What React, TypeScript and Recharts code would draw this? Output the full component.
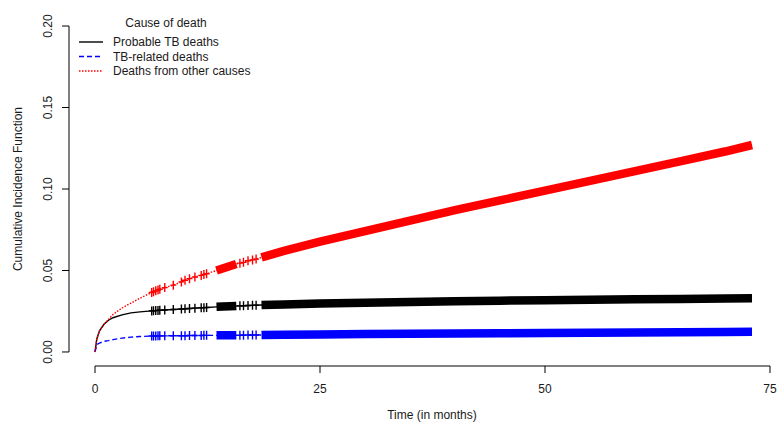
import { ComposedChart, Line, XAxis, YAxis, ReferenceLine } from 'recharts'

// time points (months); includes censoring times
const times = [
  0, 0.2, 0.5, 1, 1.5, 2, 3, 4, 5, 6.3, 6.5, 6.75, 7, 7.2, 7.75, 8.7, 9.6, 10, 10.5, 11.1, 11.8, 12.1,
  12.4, 13.5, 15.7, 16.1, 16.5, 17, 17.5, 17.9, 18.5, 21, 25, 30, 35, 40, 45, 50, 55, 60, 65, 70, 73,
]

const probableTB = [
  0, 0.008, 0.013, 0.017, 0.0195, 0.021, 0.0228, 0.024, 0.0246, 0.0252, 0.0253, 0.0254, 0.0255, 0.0256,
  0.0258, 0.0261, 0.0264, 0.0265, 0.0267, 0.0269, 0.0271, 0.0272, 0.0273, 0.0277, 0.0282, 0.0283, 0.0284,
  0.0285, 0.0286, 0.0287, 0.0288, 0.0292, 0.0297, 0.0302, 0.0307, 0.0311, 0.0315, 0.0318, 0.0321, 0.0323,
  0.0325, 0.0328, 0.033,
]

const tbRelated = [
  0, 0.0045, 0.0055, 0.0065, 0.007, 0.0076, 0.0085, 0.0091, 0.0095, 0.0098, 0.0098, 0.0098, 0.0099, 0.0099,
  0.0099, 0.01, 0.01, 0.01, 0.0101, 0.0101, 0.0101, 0.0102, 0.0102, 0.0102, 0.0103, 0.0103, 0.0103, 0.0104,
  0.0104, 0.0104, 0.0104, 0.0106, 0.0108, 0.011, 0.0112, 0.0113, 0.0115, 0.0117, 0.0118, 0.012, 0.0121,
  0.0123, 0.0124,
]

const otherCauses = [
  0, 0.008, 0.013, 0.017, 0.02, 0.023, 0.027, 0.03, 0.033, 0.0365, 0.037, 0.0375, 0.038, 0.0385, 0.0395,
  0.041, 0.043, 0.044, 0.045, 0.046, 0.047, 0.0475, 0.048, 0.05, 0.054, 0.0545, 0.055, 0.056, 0.0565, 0.057,
  0.058, 0.062, 0.0677, 0.0742, 0.0806, 0.087, 0.093, 0.099, 0.105, 0.111, 0.117, 0.123, 0.127,
]

// single censoring marks, and stretches where marks merge into a solid band
const censorTimes = [6.3, 6.5, 6.75, 7, 7.2, 7.75, 8.7, 9.6, 10, 10.5, 11.1, 11.8, 12.1, 12.4, 16.1, 16.5, 17, 17.5, 17.9]
const denseRanges = [
  [13.5, 15.7],
  [18.5, 73],
]

const xTicks = [0, 25, 50, 75]
const yTicks = [0, 0.05, 0.1, 0.15, 0.2]

const series = [
  { key: 'tb', name: 'Probable TB deaths', values: probableTB, color: '#000000', dash: undefined },
  { key: 'rel', name: 'TB-related deaths', values: tbRelated, color: '#0000ff', dash: '5 3' },
  { key: 'oth', name: 'Deaths from other causes', values: otherCauses, color: '#ff0000', dash: '1.5 1.5' },
]

const inDense = (t: number) => denseRanges.some(([a, b]) => t >= a && t <= b)

const data = times.map((t, i) => {
  const row: Record<string, number | null> = { t }
  series.forEach((s) => {
    row[s.key] = s.values[i]
    row[s.key + 'Band'] = inDense(t) ? s.values[i] : null
  })
  return row
})

const font = '"Liberation Sans", Arial, sans-serif'
const textColor = '#1a1a1a'

function censorDot(color: string) {
  return (props: any) => {
    const { cx, cy, payload, index } = props
    if (!censorTimes.includes(payload.t)) return <g key={index} />
    return (
      <path
        key={index}
        d={`M${cx - 3},${cy} h6 M${cx},${cy - 4.5} v9`}
        stroke={color}
        strokeWidth={1.4}
        fill="none"
      />
    )
  }
}

function XTick({ x, payload }: any) {
  return (
    <text x={x} y={389} textAnchor="middle" dominantBaseline="central" fontSize={12} fontFamily={font} fill={textColor}>
      {payload.value}
    </text>
  )
}

function YTick({ y, payload }: any) {
  return (
    <text
      x={48}
      y={y}
      transform={`rotate(-90, 48, ${y})`}
      textAnchor="middle"
      dominantBaseline="central"
      fontSize={12}
      fontFamily={font}
      fill={textColor}
    >
      {payload.value.toFixed(2)}
    </text>
  )
}

function LegendBox() {
  return (
    <svg width={280} height={82} style={{ position: 'absolute', left: 0, top: 0, display: 'block' }}>
      <text x={166} y={23} textAnchor="middle" dominantBaseline="central" fontSize={12} fontFamily={font} fill={textColor}>
        Cause of death
      </text>
      {series.map((s, i) => (
        <g key={s.key}>
          <line x1={79} x2={103} y1={42 + i * 14.5} y2={42 + i * 14.5} stroke={s.color} strokeWidth={1.4} strokeDasharray={s.dash} />
          <text x={113} y={42 + i * 14.5} dominantBaseline="central" fontSize={12} fontFamily={font} fill={textColor}>
            {s.name}
          </text>
        </g>
      ))}
    </svg>
  )
}

const xMin = -2.889
const xMax = 76.11
const yMin = -0.0086
const yMax = 0.2086

export default function App() {
  return (
    <div style={{ position: 'absolute', left: 0, top: 0, width: 780, height: 426, background: '#fff' }}>
      <ComposedChart width={780} height={426} data={data} margin={{ top: 12, right: 0, bottom: 0, left: 0 }}>
        <XAxis
          type="number"
          dataKey="t"
          domain={[xMin, xMax]}
          allowDataOverflow
          ticks={xTicks}
          tick={<XTick />}
          tickSize={7}
          tickLine={{ stroke: '#000' }}
          axisLine={false}
          height={60}
          label={{
            content: () => (
              <text x={432} y={415} textAnchor="middle" dominantBaseline="central" fontSize={12} fontFamily={font} fill={textColor}>
                Time (in months)
              </text>
            ),
          }}
        />
        <YAxis
          type="number"
          domain={[yMin, yMax]}
          allowDataOverflow
          ticks={yTicks}
          tick={<YTick />}
          tickSize={7}
          tickLine={{ stroke: '#000' }}
          axisLine={false}
          width={69}
          label={{
            content: () => (
              <text
                x={18}
                y={189}
                transform="rotate(-90, 18, 189)"
                textAnchor="middle"
                dominantBaseline="central"
                fontSize={12}
                fontFamily={font}
                fill={textColor}
              >
                Cumulative Incidence Function
              </text>
            ),
          }}
        />
        <ReferenceLine segment={[{ x: 0, y: yMin }, { x: 75, y: yMin }]} stroke="#000" strokeWidth={1} ifOverflow="visible" />
        <ReferenceLine segment={[{ x: xMin, y: 0 }, { x: xMin, y: 0.2 }]} stroke="#000" strokeWidth={1} ifOverflow="visible" />
        {series.map((s) => (
          <Line
            key={s.key}
            dataKey={s.key}
            name={s.name}
            type="linear"
            stroke={s.color}
            strokeWidth={1.4}
            strokeDasharray={s.dash}
            dot={censorDot(s.color)}
            activeDot={false}
            isAnimationActive={false}
            legendType="none"
          />
        ))}
        {series.map((s) => (
          <Line
            key={s.key + 'Band'}
            dataKey={s.key + 'Band'}
            type="linear"
            stroke={s.color}
            strokeWidth={8.5}
            strokeLinecap="butt"
            dot={false}
            activeDot={false}
            connectNulls={false}
            isAnimationActive={false}
            legendType="none"
          />
        ))}
      </ComposedChart>
      <LegendBox />
    </div>
  )
}
